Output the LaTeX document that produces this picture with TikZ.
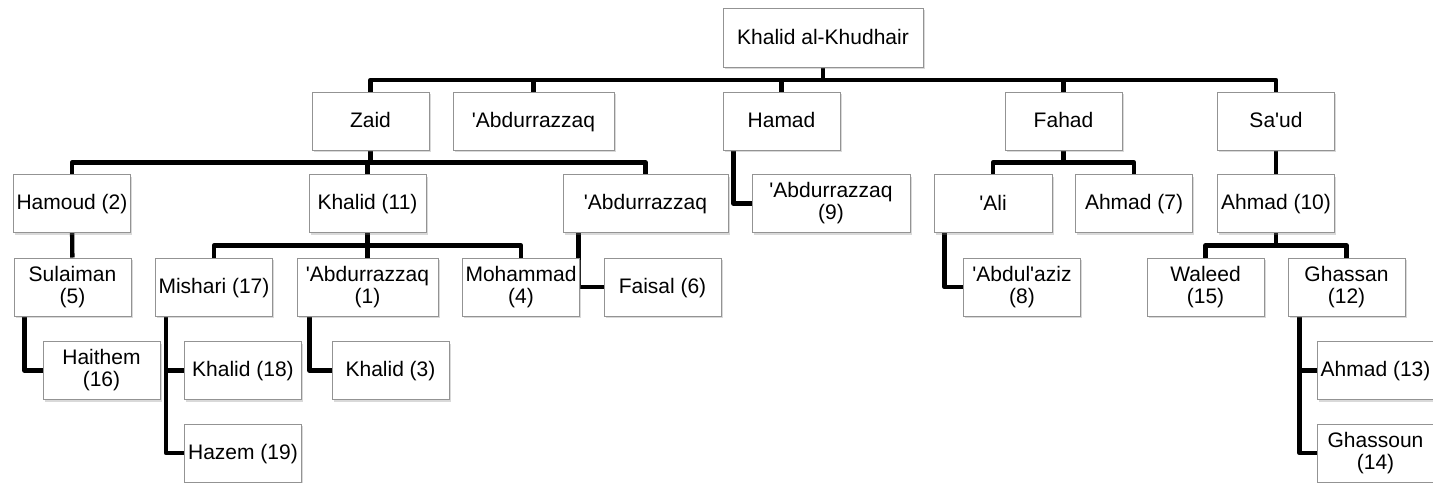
\documentclass[tikz,border=0pt]{standalone}
\usepackage{fontspec}
\setmainfont{Liberation Sans}[Ligatures=TeXOff]
\usetikzlibrary{shadows,backgrounds}
\newcommand{\namefont}{\fontsize{10.5pt}{11pt}\selectfont}
\newcommand{\namestrut}{\rule[-1.7pt]{0pt}{10.2pt}}

\begin{document}
\begin{tikzpicture}[x=0.5pt,y=-0.5pt,
  person/.style={draw=gray!85,line width=0.5pt,fill=white,minimum width=58.5pt,minimum height=29pt,
    inner sep=0pt,align=center,font=\namefont,
    execute at begin node=\namestrut,execute at end node=\namestrut,
    drop shadow={shadow xshift=0.8pt,shadow yshift=-1.2pt,opacity=0.3}},
  link/.style={line width=2.2pt,line join=round}]
\useasboundingbox (0,0) rectangle (1433,482);
\clip (0,0) rectangle (1433,482);

% Root
\node[person,minimum width=100pt,minimum height=29.5pt] (root) at (823,37.5) {Khalid al-Khudhair};

% Sons
\node[person] (zaid) at (370.5,121) {Zaid};
\node[person,minimum width=80.5pt] (abdA) at (533.5,121) {'Abdurrazzaq};
\node[person] (hamad) at (781.5,121) {Hamad};
\node[person] (fahad) at (1063.5,121) {Fahad};
\node[person] (saud) at (1276,121) {Sa'ud};

% Grandsons
\node[person] (hamoud) at (72,203.5) {Hamoud (2)};
\node[person] (khalidB) at (367.5,203.5) {Khalid (11)};
\node[person,minimum width=82.5pt] (abdB) at (645.5,203.5) {'Abdurrazzaq};
\node[person,minimum width=79pt] (abdC) at (831,203.5) {'Abdurrazzaq\\(9)};
\node[person,minimum width=59pt] (ali) at (993,203.5) {'Ali};
\node[person] (ahmadA) at (1134,203.5) {Ahmad (7)};
\node[person] (ahmadB) at (1276,203.5) {Ahmad (10)};

% Third generation
\node[person] (sulaiman) at (72.5,287) {Sulaiman\\(5)};
\node[person] (mishari) at (214,287) {Mishari (17)};
\node[person,minimum width=70.5pt] (abdD) at (367.5,287) {'Abdurrazzaq\\(1)};
\node[person] (mohammad) at (521,287) {Mohammad\\(4)};
\node[person] (faisal) at (662.5,287) {Faisal (6)};
\node[person] (abdulaziz) at (1022,287) {'Abdul'aziz\\(8)};
\node[person] (waleed) at (1205.5,287) {Waleed\\(15)};
\node[person] (ghassan) at (1346.5,287) {Ghassan\\(12)};

% Fourth generation
\node[person] (haithem) at (101.5,370.5) {Haithem\\(16)};
\node[person] (khalidC) at (243,370.5) {Khalid (18)};
\node[person] (khalidD) at (390.5,370.5) {Khalid (3)};
\node[person] (ahmadC) at (1375.5,370.5) {Ahmad (13)};
\node[person] (hazem) at (243,453) {Hazem (19)};
\node[person] (ghassoun) at (1375.5,453) {Ghassoun\\(14)};

% Connectors
\begin{scope}[on background layer]
\foreach \c in {zaid,abdA,hamad,fahad,saud}
  \draw[link] (root.south) -- ++(0,12.5) -| (\c.north);
\foreach \c in {hamoud,khalidB,abdB}
  \draw[link] (zaid.south) -- ++(0,12) -| (\c.north);
\foreach \c in {ali,ahmadA}
  \draw[link] (fahad.south) -- ++(0,12) -| (\c.north);
\foreach \c in {mishari,abdD,mohammad}
  \draw[link] (khalidB.south) -- ++(0,12.5) -| (\c.north);
\foreach \c in {waleed,ghassan}
  \draw[link] (ahmadB.south) -- ++(0,12.5) -| (\c.north);
\draw[link] (saud) -- (ahmadB);
\draw[link] (hamoud) -- (sulaiman);

\draw[link] ([xshift=5.5pt]hamad.south west) |- (abdC.west);
\draw[link] ([xshift=8pt]abdB.south west) |- (faisal.west);
\draw[link] ([xshift=5.5pt]ali.south west) |- (abdulaziz.west);
\draw[link] ([xshift=5.5pt]sulaiman.south west) |- (haithem.west);
\draw[link] ([xshift=5.5pt]mishari.south west) |- (khalidC.west);
\draw[link] ([xshift=5.5pt]mishari.south west) |- (hazem.west);
\draw[link] ([xshift=6.5pt]abdD.south west) |- (khalidD.west);
\draw[link] ([xshift=6pt]ghassan.south west) |- (ahmadC.west);
\draw[link] ([xshift=6pt]ghassan.south west) |- (ghassoun.west);
\end{scope}
\end{tikzpicture}
\end{document}
